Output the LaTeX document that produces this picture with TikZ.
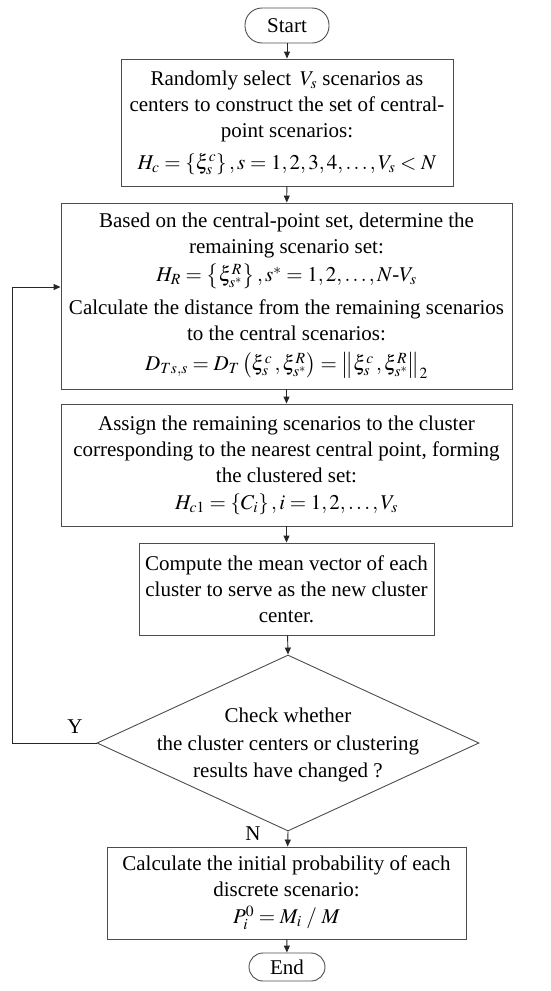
\documentclass[tikz,border=0pt]{standalone}
\usepackage{mathptmx}
\usepackage{fontspec}
\setmainfont{Liberation Serif}
\usetikzlibrary{arrows.meta,shapes.geometric}
\begin{document}
\begin{tikzpicture}[x=1pt,y=-1pt,
  every node/.style={font=\fontsize{21}{26}\selectfont, text=black},
  procbox/.style={draw=black!70, line width=0.9pt, align=center, inner sep=0pt},
  term/.style={draw=black!70, line width=0.9pt, align=center, inner sep=0pt},
  conn/.style={draw=black!85, line width=0.9pt, -{Triangle[length=7pt,width=6pt]}},
  lbl/.style={inner sep=0pt}]
\useasboundingbox (0,0) rectangle (550,991);

\node[term, minimum width=84, minimum height=35, rounded corners=17pt] (start) at (287,25.5) {Start};

\node[procbox, minimum width=332, minimum height=127] (b1) at (287,122.5)
{Randomly select \,$V_s$ scenarios as\\
centers to construct the set of central-\\
point scenarios:\\[6pt]
$H_c=\left\{\xi_s^c\right\},s=1,2,3,4,\ldots,V_s<N$};

\node[procbox, minimum width=451, minimum height=186] (b2) at (286.5,296)
{Based on the central-point set, determine the\\
remaining scenario set:\\[2pt]
$H_R=\left\{\xi_{s^*}^R\right\},s^*=1,2,\ldots,N\mbox{-}V_s$\\[7pt]
Calculate the distance from the remaining scenarios\\
to the central scenarios:\\[4pt]
$D_{Ts,s}=D_T\left(\xi_s^c\,,\xi_{s^*}^R\right)=\left\|\xi_s^c\,,\xi_{s^*}^R\right\|_2$};

\node[procbox, minimum width=451, minimum height=122] (b3) at (286.5,465)
{Assign the remaining scenarios to the cluster\\
corresponding to the nearest central point, forming\\
the clustered set:\\[1pt]
$H_{c1}=\left\{C_i\right\},i=1,2,\ldots,V_s$};

\node[procbox, minimum width=295, minimum height=92] (b4) at (286.5,589)
{Compute the mean vector of each\\
cluster to serve as the new cluster\\
center.};

\node[draw=black!70, line width=0.9pt, diamond, minimum width=382, minimum height=176, inner sep=0pt] (dia) at (288,743) {};
\node[lbl, align=center, font=\fontsize{21}{27.5}\selectfont] (diatext) at (288,745)
{Check whether\\
the cluster centers or clustering\\
results have changed ?};

\node[procbox, minimum width=359, minimum height=92] (b5) at (286.5,893)
{Calculate the initial probability of each\\
discrete scenario:\\[1pt]
$P_i^0=M_i\;/\;M$};

\node[term, minimum width=76, minimum height=28, rounded corners=14pt] (end) at (287,967) {End};

\node[lbl] (ylab) at (75,727) {Y};
\node[lbl] (nlab) at (253,834) {N};

\coordinate (lp) at (12,743);

\draw[conn] (start) -- (b1);
\draw[conn] (b1) -- (b2);
\draw[conn] (b2) -- (b3);
\draw[conn] (b3) -- (b4);
\draw[conn] (b4) -- (dia.north);
\draw[conn] (dia.south) -- (b5);
\draw[conn] (b5) -- (end);
\draw[conn] (dia.west) -- (lp) |- ([yshift=9pt]b2.west);
\end{tikzpicture}
\end{document}
